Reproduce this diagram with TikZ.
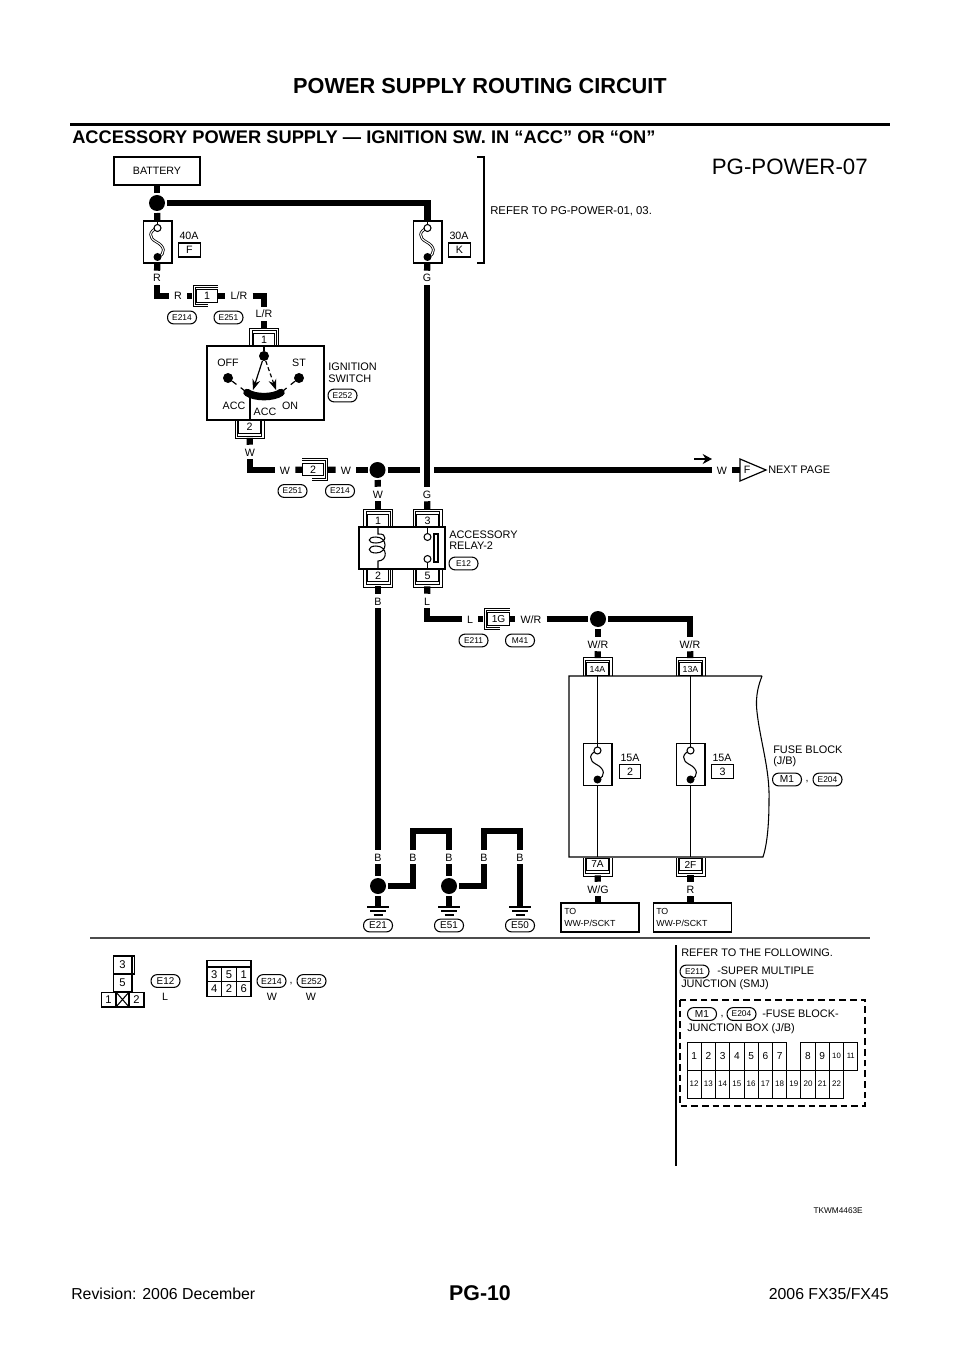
\documentclass[tikz,border=0pt]{standalone}
\usepackage{fontspec}
\setmainfont{Liberation Sans}
\usetikzlibrary{arrows.meta}
\tikzset{
	wire/.style={line width=4.7pt},
	thinwire/.style={line width=.8pt},
	sockline/.style={line width=.7pt},
	wlab/.style={font=\fontsize{8}{9}\selectfont,inner xsep=3.8pt,inner ysep=0pt,minimum height=10.5pt,text height=6pt,text depth=0pt},
	txt/.style={font=\fontsize{8.2}{8.7}\selectfont,inner sep=0pt,align=left,anchor=west},
	amps/.style={font=\fontsize{8}{9}\selectfont,inner sep=0pt},
	fusebox/.style={draw,line width=.8pt,fill=white,minimum width=21.7pt,minimum height=31.5pt,inner sep=0pt},
	lettbox/.style={draw,line width=.8pt,minimum width=16pt,minimum height=10.5pt,inner sep=0pt,font=\fontsize{8}{9}\selectfont},
	pinbox/.style={draw,line width=.8pt,fill=white,minimum width=16pt,minimum height=9.6pt,inner sep=0pt,outer sep=3.4pt,font=\fontsize{8}{9}\selectfont},
	tallpin/.style={pinbox,font=\fontsize{6.6}{8}\selectfont},
	harness/.style={draw,line width=.8pt,rounded corners=4.6pt,minimum width=21.7pt,minimum height=9.6pt,inner sep=0pt,font=\fontsize{6.3}{8}\selectfont},
	splice/.style={circle,fill=black,minimum size=12pt,inner sep=0pt,outer sep=1.5pt},
	opendot/.style={circle,draw,line width=.8pt,fill=white,minimum size=5.2pt,inner sep=0pt},
	swdot/.style={circle,fill=black,minimum size=7.5pt,inner sep=0pt},
	unitbox/.style={draw,line width=.9pt,inner sep=0pt},
	cellbox/.style={draw,line width=.7pt,minimum width=10.68pt,minimum height=21pt,inner sep=0pt},
	smallcell/.style={draw,line width=.8pt,inner sep=0pt,font=\fontsize{8.4}{9}\selectfont},
	fusesym/.pic={
		\draw[#1] (0,-14) .. controls (-9,-11) and (-9,-4) .. (-1,0) .. controls (7,4) and (9,12) .. (0,15);
		\draw[thinwire] (0,-21) -- (0,-17);
		\draw[thinwire,fill=white] (0,-14) circle (3.5);
		\fill (0,15) circle (4);
	},
	sock/.pic={
		\draw[sockline] (-14.5,6.5) -- (-14.5,-11.5) -- (14.5,-11.5) -- (14.5,6.5);
		\draw[sockline] (-12,6.5) -- (-12,-9) -- (12,-9) -- (12,6.5);
	},
	sockside/.pic={
		\draw[sockline] (11,-11) -- (-14,-11) -- (-14,10.5) -- (1,10.5);
		\draw[sockline] (11,-9) -- (-12,-9) -- (-12,8.5) -- (1,8.5);
	},
	gndsym/.pic={
		\draw[line width=.9pt] (-11,0) -- (11,0);
		\draw[line width=.9pt] (-8,4) -- (8,4);
		\draw[line width=.9pt] (-4.5,8) -- (4.5,8);
	},
}
\begin{document}
\begin{tikzpicture}[x=.75pt,y=-.75pt]
	\useasboundingbox (0,0) rectangle (960,1358);
	
	% page head and foot
	\node[inner sep=0pt,font=\bfseries\fontsize{16.3}{18}\selectfont] (title) at (480,86) {POWER SUPPLY ROUTING CIRCUIT};
	\coordinate (ruleL) at (70,124.5);
	\coordinate (ruleR) at (890,124.5);
	\draw[line width=1.9pt] (ruleL) -- (ruleR);
	\node[inner sep=0pt,anchor=west,font=\bfseries\fontsize{13.7}{15}\selectfont] (head) at (72,137) {ACCESSORY POWER SUPPLY — IGNITION SW. IN “ACC” OR “ON”};
	\node[inner sep=0pt,anchor=east,font=\fontsize{16.7}{20}\selectfont] (sheet) at (868,167) {PG-POWER-07};
	\node[inner sep=0pt,anchor=east,font=\fontsize{6.2}{7}\selectfont] (drawno) at (863,1211) {TKWM4463E};
	\node[inner sep=0pt,font=\bfseries\fontsize{16}{19}\selectfont] (pageno) at (480,1293) {PG-10};
	\node[inner sep=0pt,anchor=west,font=\fontsize{11.9}{13}\selectfont] (rev) at (71,1294) {Revision: 2006 December};
	\node[inner sep=0pt,anchor=east,font=\fontsize{11.9}{13}\selectfont] (model) at (889,1294) {2006 FX35/FX45};
	
	% battery and fusible links
	\node[unitbox,minimum width=64.5pt,minimum height=21pt,font=\fontsize{8}{9}\selectfont] (battery) at (157,171) {BATTERY};
	\node[splice] (splA) at (157,203) {};
	\node[fusebox] (fuseA) at (157.5,242) {};
	\node[fusebox] (fuseB) at (427.5,242) {};
	\draw[wire] (battery) -- (splA);
	\draw[wire] (splA) -- (fuseA);
	\draw[wire] (splA) -| (fuseB);
	\pic at (fuseA) {fusesym={double,double distance=.8pt,line width=.6pt}};
	\pic at (fuseB) {fusesym={double,double distance=.8pt,line width=.6pt}};
	\node[amps] (ampA) at (189,236) {40A};
	\node[lettbox] (linkF) at (189.5,250) {F};
	\node[amps] (ampB) at (459,236) {30A};
	\node[lettbox] (linkK) at (459.5,250) {K};
	\coordinate (brA) at (477,157);
	\coordinate (brB) at (484,157);
	\coordinate (brC) at (484,263);
	\coordinate (brD) at (477,263);
	\draw[line width=.8pt] (brA) -- (brB) -- (brC) -- (brD);
	\node[txt,font=\fontsize{8.5}{9}\selectfont] (refer) at (490,211) {REFER TO PG-POWER-01, 03.};
	
	% feed to ignition switch
	\node[wlab] (labRa) at (157,278) {R};
	\node[wlab] (labRb) at (178,296) {R};
	\node[pinbox] (pinA) at (207,296) {1};
	\node[wlab] (labLRa) at (239,296) {L/R};
	\node[wlab] (labLRb) at (264,314) {L/R};
	\pic at (pinA) {sockside};
	\draw[wire] (fuseA) -- (labRa);
	\draw[wire] (labRa) |- (labRb);
	\draw[wire] (labRb) -- (pinA);
	\draw[wire,shorten <=-3.4pt] (pinA) -- (labLRa);
	\draw[wire] (labLRa) -| (labLRb);
	\node[harness] (conA) at (182,317.5) {E214};
	\node[harness] (conB) at (228.5,317.5) {E251};
	
	% ignition switch
	\node[unitbox,minimum width=87.7pt,minimum height=55.5pt] (swbox) at (265.5,383) {};
	\node[pinbox] (pinB) at (264,339.5) {1};
	\node[pinbox] (pinC) at (249.5,427) {2};
	\pic at (pinB) {sock};
	\pic[yscale=-1] at (pinC) {sock};
	\node[wlab] (labWa) at (250,452) {W};
	\draw[wire] (labLRb) -- (pinB);
	\draw[wire] (pinC) -- (labWa);
	\node[swdot] (swA) at (264,356) {};
	\node[swdot] (swOff) at (228,378) {};
	\node[swdot] (swSt) at (299,378) {};
	\node[amps] (txtOff) at (228,363) {OFF};
	\node[amps] (txtSt) at (299,363) {ST};
	\node[amps] (txtAccL) at (234,406) {ACC};
	\node[amps] (txtAccB) at (265,412) {ACC};
	\node[amps] (txtOn) at (290,406) {ON};
	\coordinate (arcL) at (247,392.5);
	\coordinate (arcR) at (281,392.5);
	\coordinate (arcLo) at (250,397);
	\coordinate (tipL) at (253,390);
	\coordinate (tipR) at (276,390);
	\draw[thinwire] (swA) -- (swA |- swbox.north);
	\draw[line width=5.6pt,line cap=round] (arcL) .. controls (255,398) and (273,398) .. (arcR);
	\draw[line width=.9pt,-{Stealth[length=8pt,width=6pt]}] (swA) -- (tipL);
	\draw[line width=.9pt,densely dashed,-{Stealth[length=8pt,width=6pt]}] (swA) -- (tipR);
	\draw[line width=.9pt,dash pattern=on 4pt off 4pt] (swOff) -- (arcL);
	\draw[line width=.9pt,dash pattern=on 4pt off 4pt] (swSt) -- (arcR);
	\draw[thinwire] (arcLo) -- (arcLo |- swbox.south);
	\node[txt] (swname) at (328,372.5) {IGNITION\\SWITCH};
	\node[harness] (conC) at (342.5,395.5) {E252};
	
	% W line to next page
	\node[wlab] (labWb) at (285,470) {W};
	\node[pinbox] (pinD) at (313,469.5) {2};
	\node[wlab] (labWc) at (346,470) {W};
	\node[splice] (splB) at (377.5,470) {};
	\pic[xscale=-1] at (pinD) {sockside};
	\draw[wire] (labWa) |- (labWb);
	\draw[wire,shorten >=-3.4pt] (labWb) -- (pinD);
	\draw[wire] (pinD) -- (labWc);
	\draw[wire] (labWc) -- (splB);
	\node[harness] (conD) at (292.5,491) {E251};
	\node[harness] (conE) at (340,491) {E214};
	\node[wlab] (labGa) at (427,278) {G};
	\node[wlab] (labGb) at (427,494) {G};
	\draw[wire] (fuseB) -- (labGa);
	\draw[wire] (labGa) -- (labGb);
	\coordinate (gapL) at (420,470);
	\coordinate (gapR) at (434,470);
	\node[wlab] (labWe) at (722,470) {W};
	\draw[wire] (splB) -- (gapL);
	\draw[wire] (gapR) -- (labWe);
	\coordinate (flagA) at (740,459);
	\coordinate (flagB) at (766,470);
	\coordinate (flagC) at (740,481);
	\coordinate (flagM) at (740,470);
	\draw[line width=.9pt] (flagA) -- (flagB) -- (flagC) -- cycle;
	\draw[wire,line width=4.2pt] (labWe) -- (flagM);
	\node[amps] (flagF) at (747,470) {F};
	\node[txt] (nextpg) at (768,470) {NEXT PAGE};
	\coordinate (dirA) at (694,459);
	\coordinate (dirB) at (712,459);
	\draw[line width=1.6pt,-{Stealth[length=7pt,width=7.5pt]}] (dirA) -- (dirB);
	
	% accessory relay
	\node[unitbox,minimum width=64.5pt,minimum height=31.5pt] (relay) at (402,548) {};
	\node[pinbox] (pinE) at (378,520.5) {1};
	\node[pinbox] (pinF) at (427.5,520.5) {3};
	\node[pinbox] (pinG) at (378,575.5) {2};
	\node[pinbox] (pinH) at (427.5,575.5) {5};
	\pic at (pinE) {sock};
	\pic at (pinF) {sock};
	\pic[yscale=-1] at (pinG) {sock};
	\pic[yscale=-1] at (pinH) {sock};
	\node[wlab] (labWd) at (378,494) {W};
	\draw[wire] (splB) -- (labWd);
	\draw[wire] (labWd) -- (pinE);
	\draw[wire] (labGb) -- (pinF);
	\coordinate (coilT) at (378,534);
	\coordinate (coilB) at (378,561);
	\draw[thinwire] (coilT |- relay.north) -- (coilT) .. controls (388,533) and (387,543) .. (376,543) .. controls (367,543) and (367,537) .. (376,537) .. controls (388,537) and (388,553) .. (376,553) .. controls (367,553) and (367,546) .. (376,546) .. controls (388,546) and (388,561) .. (coilB) -- (coilB |- relay.south);
	\node[opendot] (contA) at (427.5,537) {};
	\node[opendot] (contB) at (427.5,559) {};
	\node[draw,line width=.8pt,minimum width=3pt,minimum height=21pt,inner sep=0pt] (contBar) at (436,548) {};
	\draw[thinwire] (contA) -- (contA |- relay.north);
	\draw[thinwire] (contB) -- (contB |- relay.south);
	\node[txt] (relname) at (449,540) {ACCESSORY\\RELAY-2};
	\node[harness] (conF) at (463.5,563.5) {E12};
	
	% relay output to fuse block
	\node[wlab] (labL) at (427,601) {L};
	\node[wlab] (labLb) at (470,619) {L};
	\node[pinbox,font=\fontsize{7.6}{9}\selectfont] (pinJ) at (498.5,619) {1G};
	\node[wlab] (labWRa) at (531,619) {W/R};
	\node[splice] (splC) at (598,619) {};
	\node[wlab] (labWRb) at (598,644) {W/R};
	\node[wlab] (labWRc) at (690,644) {W/R};
	\pic at (pinJ) {sockside};
	\draw[wire] (pinH) -- (labL);
	\draw[wire] (labL) |- (labLb);
	\draw[wire] (labLb) -- (pinJ);
	\draw[wire,shorten <=-3.4pt] (pinJ) -- (labWRa);
	\draw[wire] (labWRa) -- (splC);
	\draw[wire] (splC) -- (labWRb);
	\draw[wire] (splC) -| (labWRc);
	\node[harness] (conG) at (473.5,640.5) {E211};
	\node[harness] (conH) at (520,640.5) {M41};
	
	% fuse block
	\coordinate (blkA) at (569,676);
	\coordinate (blkB) at (762,676);
	\coordinate (blkC) at (763,857);
	\coordinate (blkD) at (569,857);
	\draw[thinwire] (blkB) .. controls (759,684) and (755,695) .. (757,712) .. controls (760,740) and (770,770) .. (769,800) .. controls (769,825) and (767,845) .. (blkC) -- (blkD) -- (blkA) -- (blkB);
	\node[tallpin] (pinK) at (597.5,669) {14A};
	\node[tallpin] (pinM) at (690.5,669) {13A};
	\pic at (pinK) {sock};
	\pic at (pinM) {sock};
	\draw[wire] (labWRb) -- (pinK);
	\draw[wire] (labWRc) -- (pinM);
	\node[fusebox] (fuseC) at (597.5,764.5) {};
	\node[fusebox] (fuseD) at (690.5,764.5) {};
	\coordinate (blkE) at (597.5,676);
	\coordinate (blkF) at (690.5,676);
	\coordinate (blkG) at (597.5,857);
	\coordinate (blkH) at (690.5,857);
	\draw[thinwire] (blkE) -- (fuseC);
	\draw[thinwire] (blkF) -- (fuseD);
	\draw[thinwire] (fuseC) -- (blkG);
	\draw[thinwire] (fuseD) -- (blkH);
	\pic at (fuseC) {fusesym={line width=.8pt}};
	\pic at (fuseD) {fusesym={line width=.8pt}};
	\node[amps] (ampC) at (630,758) {15A};
	\node[lettbox] (cellC) at (630,771.5) {2};
	\node[amps] (ampD) at (722,758) {15A};
	\node[lettbox] (cellD) at (722.5,771.5) {3};
	\node[txt] (blkname) at (773,756.5) {FUSE BLOCK\\(J/B)};
	\node[harness,font=\fontsize{7.6}{9}\selectfont] (conJ) at (787,779.5) {M1};
	\node[amps] (comA) at (807,782) {,};
	\node[harness] (conK) at (827.5,779.5) {E204};
	
	% fuse block outputs
	\node[tallpin,font=\fontsize{7.6}{9}\selectfont] (pinN) at (597.5,864.5) {7A};
	\node[tallpin,font=\fontsize{7.6}{9}\selectfont] (pinP) at (690.5,864.5) {2F};
	\pic[yscale=-1] at (pinN) {sock};
	\pic[yscale=-1] at (pinP) {sock};
	\node[wlab] (labWG) at (598,889) {W/G};
	\node[wlab] (labRc) at (690.5,889) {R};
	\node[unitbox,minimum width=58.5pt,minimum height=21.7pt] (sockA) at (600,917.5) {};
	\node[unitbox,minimum width=58.5pt,minimum height=21.7pt] (sockB) at (692.5,917.5) {};
	\node[txt,font=\fontsize{6.6}{8.6}\selectfont] (sockAt) at (564,917.5) {TO\\WW-P/SCKT};
	\node[txt,font=\fontsize{6.6}{8.6}\selectfont] (sockBt) at (656,917.5) {TO\\WW-P/SCKT};
	\draw[wire] (pinN) -- (labWG);
	\draw[wire] (pinP) -- (labRc);
	\draw[wire] (labWG) -- (labWG |- sockA.north);
	\draw[wire] (labRc) -- (labRc |- sockB.north);
	
	% grounds
	\node[wlab] (labBa) at (378,601) {B};
	\node[wlab] (labBb) at (378,857) {B};
	\node[wlab] (labBc) at (413,857) {B};
	\node[wlab] (labBd) at (449,857) {B};
	\node[wlab] (labBe) at (484,857) {B};
	\node[wlab] (labBf) at (520,857) {B};
	\node[splice] (splD) at (378,886) {};
	\node[splice] (splE) at (449,886) {};
	\coordinate (gndA) at (378,907);
	\coordinate (gndB) at (449,907);
	\coordinate (gndC) at (520,907);
	\coordinate (topA) at (431,831);
	\coordinate (topB) at (502,831);
	\draw[wire] (pinG) -- (labBa);
	\draw[wire] (labBa) -- (labBb);
	\draw[wire] (labBb) -- (splD);
	\draw[wire] (labBd) -- (splE);
	\draw[wire] (splD) -- (gndA);
	\draw[wire] (splE) -- (gndB);
	\draw[wire] (labBf) -- (gndC);
	\draw[wire] (splD) -| (labBc);
	\draw[wire] (splE) -| (labBe);
	\draw[wire] (labBc) |- (topA) -| (labBd);
	\draw[wire] (labBe) |- (topB) -| (labBf);
	\pic at (gndA) {gndsym};
	\pic at (gndB) {gndsym};
	\pic at (gndC) {gndsym};
	\node[harness,font=\fontsize{7.4}{9}\selectfont] (conM) at (378,925.5) {E21};
	\node[harness,font=\fontsize{7.4}{9}\selectfont] (conN) at (449,925.5) {E51};
	\node[harness,font=\fontsize{7.4}{9}\selectfont] (conP) at (520,925.5) {E50};
	
	% connector views
	\coordinate (divL) at (90,938);
	\coordinate (divR) at (870,938);
	\draw[line width=1.1pt,black!70] (divL) -- (divR);
	\node[smallcell,minimum width=14.2pt,minimum height=13.5pt] (vA) at (122.5,965) {3};
	\node[draw,line width=.8pt,minimum width=2pt,minimum height=13.5pt,inner sep=0pt] (vAb) at (133.5,965) {};
	\node[smallcell,minimum width=14.2pt,minimum height=13.5pt] (vB) at (122.5,983) {5};
	\node[smallcell,minimum width=11.2pt,minimum height=11.2pt] (vC) at (108.5,999.5) {1};
	\node[smallcell,minimum width=9.7pt,minimum height=11.2pt] (vD) at (122.5,999.5) {};
	\node[smallcell,minimum width=11.2pt,minimum height=11.2pt] (vE) at (136.5,999.5) {2};
	\draw[line width=.8pt] (vD.north west) -- (vD.south east);
	\draw[line width=.8pt] (vD.north east) -- (vD.south west);
	\node[harness,font=\fontsize{7.4}{9}\selectfont] (conQ) at (165.5,981) {E12};
	\node[amps] (colA) at (165,997) {L};
	\node[smallcell,minimum width=33pt,minimum height=5.2pt] (vF) at (229,963.5) {};
	\foreach \n/\i/\j in {3/1/1,5/2/1,1/3/1,4/1/2,2/2/2,6/3/2}
		\node[smallcell,minimum width=11pt,minimum height=11pt] (v\i\j) at ({207+14.67*(\i-.5)},{967+14.5*(\j-.5)}) {\n};
	\node[harness,font=\fontsize{6.6}{8}\selectfont] (conR) at (271.5,981) {E214};
	\node[amps] (colB) at (272,997) {W};
	\node[amps] (comB) at (291,984) {,};
	\node[harness,font=\fontsize{6.6}{8}\selectfont] (conS) at (311.5,981) {E252};
	\node[amps] (colC) at (311,997) {W};
	
	% references
	\coordinate (refT) at (676,945);
	\coordinate (refB) at (676,1166);
	\draw[line width=.9pt] (refT) -- (refB);
	\node[txt] (refA) at (681,953) {REFER TO THE FOLLOWING.};
	\node[harness] (conT) at (694.5,971.5) {E211};
	\node[txt] (refC) at (717,971) {-SUPER MULTIPLE};
	\node[txt] (refD) at (681,985) {JUNCTION (SMJ)};
	\coordinate (dashA) at (680,1000);
	\coordinate (dashB) at (865,1106);
	\draw[line width=.9pt,dash pattern=on 5pt off 3pt] (dashA) rectangle (dashB);
	\node[harness,font=\fontsize{7.6}{9}\selectfont] (conU) at (702,1014) {M1};
	\node[amps] (comC) at (722,1017) {,};
	\node[harness] (conV) at (741.5,1014) {E204};
	\node[txt] (refE) at (762,1014) {-FUSE BLOCK-};
	\node[txt] (refF) at (687,1029) {JUNCTION BOX (J/B)};
	\foreach \n/\i in {1/1,2/2,3/3,4/4,5/5,6/6,7/7,8/9,9/10}
		\node[cellbox,font=\fontsize{7.6}{9}\selectfont] (ct\n) at ({687+14.24*(\i-.5)},1056) {\n};
	\foreach \n/\i in {10/11,11/12}
		\node[cellbox,font=\fontsize{5.8}{7}\selectfont] (ct\n) at ({687+14.24*(\i-.5)},1056) {\n};
	\foreach \n [count=\i] in {12,...,22}
		\node[cellbox,font=\fontsize{6}{7}\selectfont] (ct\n) at ({687+14.24*(\i-.5)},1084) {\n};
	
\end{tikzpicture}
\end{document}
